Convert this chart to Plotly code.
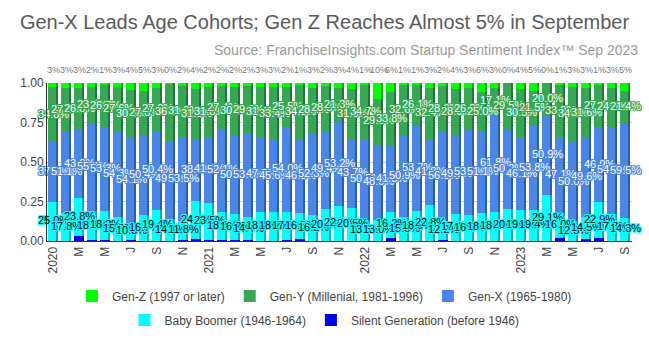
import plotly.graph_objects as go
import pandas as pd

# Monthly survey periods, Jan 2020 - Sep 2023
months = [d.strftime("%b %Y") for d in pd.date_range("2020-01-01", "2023-09-01", freq="MS")]

# Share of respondents by generation (percent)
silent = [0.0, 0.0, 3.2, 0.6, 0.6, 0.0, 0.8, 0.0, 0.0, 0.0, 0.8, 1.2, 0.8, 0.4, 0.6,
          0.5, 0.0, 0.0, 0.4, 1.0, 0.0, 0.0, 0.0, 0.3, 0.0, 0.0, 2.2, 0.0, 0.0, 0.0,
          0.7, 0.0, 0.0, 0.0, 0.0, 0.0, 0.0, 0.0, 0.0, 2.0, 0.0, 1.0, 1.6, 0.0, 0.0]
boomer = [25.0, 17.8, 23.8, 18.1, 18.2, 15.3, 10.3, 16.7, 19.4, 14.1, 11.8, 24.3, 23.5, 18.1, 16.2,
          14.4, 18.4, 18.2, 17.8, 16.5, 16.2, 20.4, 22.1, 20.5, 13.6, 13.0, 16.2, 15.5, 18.9, 22.8,
          12.2, 17.4, 16.6, 18.0, 18.1, 20.3, 19.4, 19.4, 29.1, 16.0, 12.5, 14.5, 22.9, 17.3, 14.3]
gen_x = [37.5, 51.1, 43.0, 55.4, 53.3, 54.3, 54.1, 50.4, 50.4, 49.5, 53.5, 38.6, 41.6, 52.1, 50.0,
         53.3, 47.5, 45.6, 54.0, 46.8, 52.3, 49.4, 53.2, 43.7, 50.5, 48.0, 41.8, 50.9, 53.7, 41.8,
         56.5, 49.7, 53.6, 51.1, 61.8, 50.2, 46.1, 53.8, 50.9, 47.1, 50.0, 49.6, 46.9, 54.8, 59.5]
gen_y = [34.8, 27.8, 26.8, 23.6, 26.7, 27.6, 30.6, 27.8, 27.2, 36.2, 31.9, 31.8, 31.8, 27.4, 30.9,
         29.6, 31.4, 33.4, 25.5, 34.5, 28.4, 28.3, 21.3, 31.6, 34.7, 29.0, 33.8, 32.6, 26.1, 32.4,
         28.6, 28.9, 26.8, 25.0, 17.1, 29.5, 30.5, 21.5, 20.0, 33.9, 34.9, 31.6, 27.6, 24.9, 21.4]
gen_z = [2.7, 3.3, 3.2, 2.3, 1.2, 2.8, 4.2, 5.1, 3.0, 0.2, 2.0, 4.1, 2.3, 2.0, 2.3,
         2.2, 2.7, 2.8, 2.3, 1.2, 3.1, 1.9, 3.4, 3.9, 1.2, 10.0, 6.0, 1.0, 1.3, 3.0,
         2.0, 4.0, 3.0, 5.9, 3.0, 0.0, 4.0, 5.3, 0.0, 1.0, 2.6, 3.3, 1.0, 3.0, 4.8]

tick_labels = ["2020", "M", "M", "J", "S", "N",
               "2021", "M", "M", "J", "S", "N",
               "2022", "M", "M", "J", "S", "N",
               "2023", "M", "M", "J", "S"]
tick_months = months[::2]

FONT = "Liberation Sans, Arial, sans-serif"

# bottom-to-top stacking order
series = [
    dict(name="Silent Generation (before 1946)", values=silent, color="#0000ff", side="#0000a8",
         label=None, legend="legend2", rank=2),
    dict(name="Baby Boomer (1946-1964)", values=boomer, color="#00ffff", side="#00b4b4",
         label="#000000", legend="legend2", rank=1),
    dict(name="Gen-X (1965-1980)", values=gen_x, color="#4a86e8", side="#2f5ea8",
         label="#ffffff", legend="legend", rank=3),
    dict(name="Gen-Y (Millenial, 1981-1996)", values=gen_y, color="#34a853", side="#237539",
         label="#ffffff", legend="legend", rank=2),
    dict(name="Gen-Z (1997 or later)", values=gen_z, color="#00ff00", side="#00b400",
         label=None, legend="legend", rank=1),
]

fig = go.Figure()
label_traces = []
base = [0.0] * len(months)
for s in series:
    vals = [v / 100 for v in s["values"]]
    b = [v / 100 for v in base]
    # front face
    fig.add_trace(go.Bar(
        x=months, y=vals, base=b, width=0.62, offset=-0.42,
        marker=dict(color=s["color"], line=dict(width=0)),
        name=s["name"], legend=s["legend"], legendrank=s["rank"],
        hovertemplate="%{x}: %{y:.1%}<extra>" + s["name"] + "</extra>",
    ))
    # darker side face for the 3-D look
    fig.add_trace(go.Bar(
        x=months, y=vals, base=b, width=0.17, offset=0.20,
        marker=dict(color=s["side"], line=dict(width=0)),
        showlegend=False, hoverinfo="skip",
    ))
    if s["label"]:
        c = s["color"]
        halo = ", ".join(f"{dx}px {dy}px 0px {c}" for dx, dy in
                         [(1, 0), (-1, 0), (0, 1), (0, -1), (1, 1), (-1, -1), (1, -1), (-1, 1)])
        label_traces.append(go.Scatter(
            x=months, y=[bb + v / 2 for bb, v in zip(b, vals)],
            text=[f"{v:.1f}%" for v in s["values"]],
            mode="text", textposition="middle center",
            textfont=dict(family=FONT, size=11, color=s["label"], shadow=halo),
            showlegend=False, hoverinfo="skip", cliponaxis=False,
        ))
    base = [bb + v for bb, v in zip(base, s["values"])]

for t in label_traces:
    fig.add_trace(t)

# Gen-Z share printed above each column
for m, z in zip(months, gen_z):
    fig.add_annotation(x=m, y=1.0, yshift=13, text=f"{round(z)}%", showarrow=False,
                       font=dict(family=FONT, size=9, color="#777777"))

fig.add_annotation(xref="paper", yref="paper", x=1.014, y=1.209, xanchor="right", yanchor="middle",
                   text="Source: FranchiseInsights.com Startup Sentiment Index™ Sep 2023",
                   showarrow=False, font=dict(family=FONT, size=14, color="#9a9a9a"))

legend_common = dict(orientation="h", x=0.5, xanchor="center", yanchor="middle", yref="container",
                     xref="container",
                     font=dict(family=FONT, size=12, color="#444444"),
                     bgcolor="rgba(0,0,0,0)", traceorder="normal", itemwidth=30)

fig.update_layout(
    width=649, height=338,
    margin=dict(l=47, r=17, t=83, b=97, autoexpand=False),
    paper_bgcolor="white", plot_bgcolor="white",
    barmode="overlay", bargap=0,
    title=dict(text="Gen-X Leads Age Cohorts; Gen Z Reaches Almost 5% in September",
               x=0.5, xanchor="center", y=0.935, yanchor="middle",
               font=dict(family=FONT, size=20, color="#5a5a5a")),
    legend=dict(y=1 - 296 / 338, **legend_common),
    legend2=dict(y=1 - 320 / 338, **legend_common),
    xaxis=dict(type="category", categoryorder="array", categoryarray=months,
               range=[-0.5, len(months) - 0.5],
               tickvals=tick_months, ticktext=tick_labels, tickangle=-90,
               tickfont=dict(family=FONT, size=12, color="#444444"),
               showgrid=False, ticks="", showline=True, linecolor="#333333", linewidth=1),
    yaxis=dict(range=[0, 1.0], tickvals=[0, 0.25, 0.5, 0.75, 1.0], tickformat=".2f",
               tickfont=dict(family=FONT, size=12, color="#444444"),
               gridcolor="#cccccc", gridwidth=1, zeroline=False,
               showline=True, linecolor="#333333", linewidth=1, ticks=""),
)

fig.write_html("out.html")
